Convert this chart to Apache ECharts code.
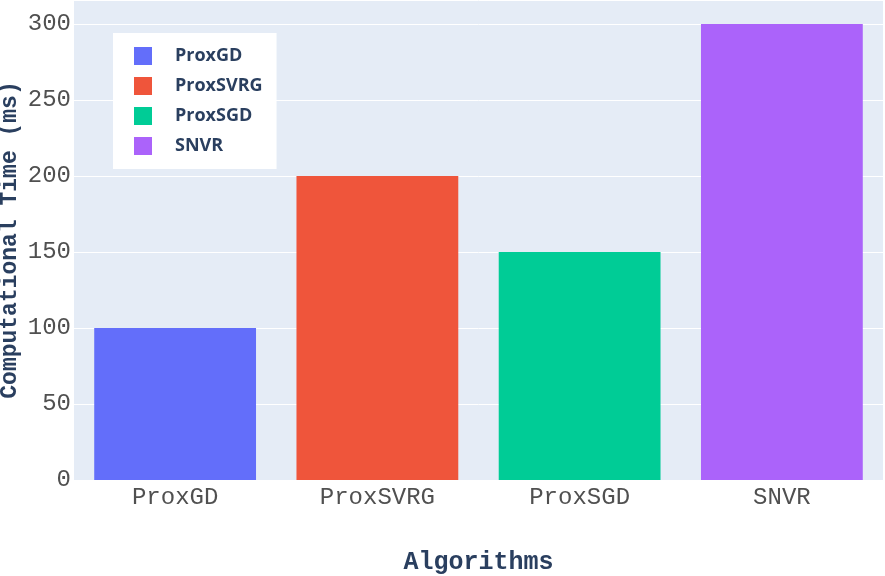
<!DOCTYPE html>
<html>
<head>
<meta charset="utf-8">
<script src="https://cdn.jsdelivr.net/npm/echarts@6/dist/echarts.min.js"></script>
<style>html,body{margin:0;padding:0;background:#fff}#c{width:885px;height:576px}</style>
</head>
<body>
<div id="c"></div>
<script>
const categories = ['ProxGD', 'ProxSVRG', 'ProxSGD', 'SNVR'];
const values = [100, 200, 150, 300];
const seriesColors = ['#636EFA', '#EF553B', '#00CC96', '#AB63FA'];
const yTicks = [0, 50, 100, 150, 200, 250, 300];

const chart = echarts.init(document.getElementById('c'));
const series = categories.map((name, i) => ({
  name: name,
  type: 'bar',
  stack: 'all',
  barWidth: '80%',
  itemStyle: { color: seriesColors[i] },
  data: categories.map((c, j) => (j === i ? values[i] : null))
}));
chart.setOption({
  animation: false,
  grid: { left: 74, right: 2, top: 0, bottom: 96, show: true, backgroundColor: '#E5ECF6', borderWidth: 0,
          containLabel: false, outerBoundsMode: 'none' },
  legend: {
    orient: 'vertical',
    left: 113, top: 33,
    backgroundColor: '#ffffff',
    padding: [14, 14, 14, 21],
    itemWidth: 18, itemHeight: 18, itemGap: 12,
    icon: 'rect',
    textStyle: { fontFamily: 'Open Sans', fontWeight: 'bold', fontSize: 18, lineHeight: 18, color: '#2a3f5f', padding: [0, 0, 0, 18] },
    data: categories
  },
  xAxis: {
    type: 'category',
    data: categories,
    axisLine: { show: false }, axisTick: { show: false },
    axisLabel: { fontFamily: 'Liberation Mono', fontSize: 24, color: '#505050', margin: 6 },
    name: 'Algorithms', nameLocation: 'middle', nameGap: 70, nameMoveOverlap: false,
    nameTextStyle: { fontFamily: 'Liberation Mono', fontWeight: 'bold', fontSize: 25, color: '#2a3f5f' }
  },
  yAxis: {
    type: 'value', min: 0, max: 315.8, interval: 50,
    axisLine: { show: false }, axisTick: { show: false },
    splitLine: { lineStyle: { color: '#ffffff', width: 1 } },
    axisLabel: { fontFamily: 'Liberation Mono', fontSize: 24, color: '#505050', margin: 3,
      formatter: v => (yTicks.indexOf(v) >= 0 ? String(v) : '') },
    name: 'Computational Time (ms)', nameLocation: 'middle', nameGap: 52, nameRotate: 90, nameMoveOverlap: false,
    nameTextStyle: { fontFamily: 'Liberation Mono', fontWeight: 'bold', fontSize: 23, color: '#2a3f5f' }
  },
  series: series
});
</script>
</body>
</html>
